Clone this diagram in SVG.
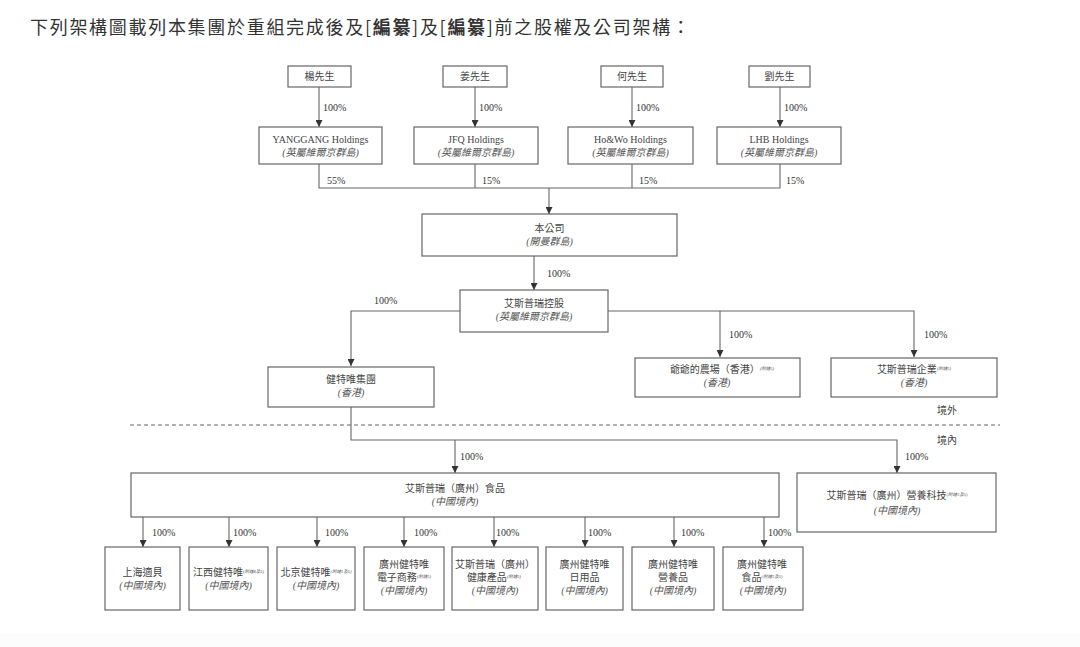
<svg xmlns="http://www.w3.org/2000/svg" width="1080" height="647" viewBox="0 0 1080 647">
<defs>
<marker id="ah" viewBox="0 0 8 8" refX="8" refY="4" markerWidth="7" markerHeight="7" markerUnits="userSpaceOnUse" orient="auto">
<path d="M0,0 L8,4 L0,8 z" fill="#333"/>
</marker>
<style>
.bx{fill:#fff;stroke:#666;stroke-width:1.2}
.ln{fill:none;stroke:#666;stroke-width:1.1}
.t{font-family:"Liberation Serif","Noto Sans CJK TC",serif;font-size:10px;fill:#444;text-anchor:middle}
.i{font-family:"Liberation Serif","Noto Sans CJK TC",serif;font-size:10px;fill:#555;text-anchor:middle;font-style:italic}
.p{font-family:"Liberation Serif",serif;font-size:10px;fill:#333}
.n{font-family:"Liberation Serif","Noto Sans CJK TC",serif;font-size:4.5px;fill:#555;font-style:italic}
.r{font-family:"Noto Sans CJK TC",sans-serif;font-size:10px;fill:#444}
</style>
</defs>
<rect x="0" y="0" width="1080" height="647" fill="#fff"/>
<rect x="0" y="633" width="1080" height="14" fill="#fcfcfc"/>
<text x="30" y="34" font-family="'Noto Sans CJK TC',sans-serif" font-size="18" fill="#333" letter-spacing="1.7">下列架構圖載列本集團於重組完成後及[<tspan font-weight="bold">編纂</tspan>]及[<tspan font-weight="bold">編纂</tspan>]前之股權及公司架構：</text>

<g id="connectors">
<path class="ln" d="M319,87 V127" marker-end="url(#ah)"/>
<path class="ln" d="M475,87 V127" marker-end="url(#ah)"/>
<path class="ln" d="M632,87 V127" marker-end="url(#ah)"/>
<path class="ln" d="M780,87 V127" marker-end="url(#ah)"/>
<path class="ln" d="M319,164 V188 H780 V164 M475,164 V188 M632,164 V188"/>
<path class="ln" d="M549,188 V214" marker-end="url(#ah)"/>
<path class="ln" d="M534,256 V290" marker-end="url(#ah)"/>
<path class="ln" d="M460,311 H351 V366" marker-end="url(#ah)"/>
<path class="ln" d="M608,311 H914 V357" marker-end="url(#ah)"/>
<path class="ln" d="M720,311 V357" marker-end="url(#ah)"/>
<path class="ln" d="M351,407 V440 H897 V473" marker-end="url(#ah)"/>
<path class="ln" d="M455,440 V473" marker-end="url(#ah)"/>
<path class="ln" d="M143,517 V547" marker-end="url(#ah)"/>
<path class="ln" d="M229,517 V547" marker-end="url(#ah)"/>
<path class="ln" d="M317,517 V547" marker-end="url(#ah)"/>
<path class="ln" d="M404,517 V547" marker-end="url(#ah)"/>
<path class="ln" d="M494,517 V547" marker-end="url(#ah)"/>
<path class="ln" d="M585,517 V547" marker-end="url(#ah)"/>
<path class="ln" d="M674,517 V547" marker-end="url(#ah)"/>
<path class="ln" d="M764,517 V547" marker-end="url(#ah)"/>
<path d="M130,425 H1000" stroke="#666" stroke-width="1" stroke-dasharray="4,3" fill="none"/>
<g class="p">
<text x="323" y="111">100%</text>
<text x="479" y="111">100%</text>
<text x="636" y="111">100%</text>
<text x="784" y="111">100%</text>
<text x="327" y="184">55%</text>
<text x="482" y="184">15%</text>
<text x="639" y="184">15%</text>
<text x="786" y="184">15%</text>
<text x="547" y="277">100%</text>
<text x="374" y="304">100%</text>
<text x="729" y="338">100%</text>
<text x="924" y="338">100%</text>
<text x="460" y="460">100%</text>
<text x="905" y="460">100%</text>
<text x="152" y="536">100%</text>
<text x="233" y="536">100%</text>
<text x="325" y="536">100%</text>
<text x="414" y="536">100%</text>
<text x="496" y="536">100%</text>
<text x="588" y="536">100%</text>
<text x="681" y="536">100%</text>
<text x="768" y="536">100%</text>
</g>
<text class="r" x="937" y="414">境外</text>
<text class="r" x="937" y="444">境內</text>
</g>

<g id="yang"><rect class="bx" x="288" y="66" width="63" height="21"/><text class="t" x="319.5" y="80">楊先生</text></g>
<g id="jiang"><rect class="bx" x="443" y="66" width="64" height="21"/><text class="t" x="475" y="80">姜先生</text></g>
<g id="he"><rect class="bx" x="601" y="66" width="62" height="21"/><text class="t" x="632" y="80">何先生</text></g>
<g id="liu"><rect class="bx" x="749" y="66" width="61" height="21"/><text class="t" x="779.5" y="80">劉先生</text></g>

<g id="yanggang"><rect class="bx" x="259" y="127" width="123" height="37"/><text class="t" x="320.5" y="143">YANGGANG Holdings</text><text class="i" x="320.5" y="156">(英屬維爾京群島)</text></g>
<g id="jfq"><rect class="bx" x="414" y="127" width="124" height="37"/><text class="t" x="476" y="143">JFQ Holdings</text><text class="i" x="476" y="156">(英屬維爾京群島)</text></g>
<g id="howo"><rect class="bx" x="568" y="127" width="125" height="37"/><text class="t" x="630.5" y="143">Ho&amp;Wo Holdings</text><text class="i" x="630.5" y="156">(英屬維爾京群島)</text></g>
<g id="lhb"><rect class="bx" x="717" y="127" width="124" height="37"/><text class="t" x="779" y="143">LHB Holdings</text><text class="i" x="779" y="156">(英屬維爾京群島)</text></g>

<g id="company"><rect class="bx" x="422" y="214" width="255" height="42"/><text class="t" x="549.5" y="232">本公司</text><text class="i" x="549.5" y="245">(開曼群島)</text></g>
<g id="aspurui-holding"><rect class="bx" x="460" y="290" width="148" height="42"/><text class="t" x="534" y="307">艾斯普瑞控股</text><text class="i" x="534" y="320">(英屬維爾京群島)</text></g>

<g id="jiantewei-group"><rect class="bx" x="268" y="367" width="166" height="40"/><text class="t" x="351" y="383">健特唯集團</text><text class="i" x="351" y="396">(香港)</text></g>
<g id="farm"><rect class="bx" x="635" y="358" width="165" height="39"/><text class="t" x="722" y="373">爺爺的農場（香港）<tspan class="n" dy="-3">(附註5)</tspan></text><text class="i" x="717" y="386">(香港)</text></g>
<g id="enterprise"><rect class="bx" x="831" y="358" width="166" height="39"/><text class="t" x="914" y="373">艾斯普瑞企業<tspan class="n" dy="-3">(附註5)</tspan></text><text class="i" x="914" y="386">(香港)</text></g>

<g id="food-gz"><rect class="bx" x="131" y="473" width="648" height="44"/><text class="t" x="455" y="492">艾斯普瑞（廣州）食品</text><text class="i" x="455" y="505">(中國境內)</text></g>
<g id="nutri-tech"><rect class="bx" x="797" y="473" width="199" height="59"/><text class="t" x="897" y="499">艾斯普瑞（廣州）營養科技<tspan class="n" dy="-3">(附註3及5)</tspan></text><text class="i" x="897" y="514">(中國境內)</text></g>

<g id="b1"><rect class="bx" x="105" y="547" width="75" height="63"/><text class="t" x="142.5" y="576">上海適貝</text><text class="i" x="142.5" y="589">(中國境內)</text></g>
<g id="b2"><rect class="bx" x="189" y="547" width="79" height="63"/><text class="t" x="228.5" y="576">江西健特唯<tspan class="n" dy="-3">(附註4及5)</tspan></text><text class="i" x="228.5" y="589">(中國境內)</text></g>
<g id="b3"><rect class="bx" x="277" y="547" width="78" height="63"/><text class="t" x="316" y="576">北京健特唯<tspan class="n" dy="-3">(附註1及5)</tspan></text><text class="i" x="316" y="589">(中國境內)</text></g>
<g id="b4"><rect class="bx" x="364" y="547" width="80" height="63"/><text class="t" x="404" y="568">廣州健特唯</text><text class="t" x="404" y="581">電子商務<tspan class="n" dy="-3">(附註5)</tspan></text><text class="i" x="404" y="594">(中國境內)</text></g>
<g id="b5"><rect class="bx" x="452" y="547" width="86" height="63"/><text class="t" x="495" y="568">艾斯普瑞（廣州）</text><text class="t" x="494" y="581">健康產品<tspan class="n" dy="-3">(附註5)</tspan></text><text class="i" x="495" y="594">(中國境內)</text></g>
<g id="b6"><rect class="bx" x="546" y="547" width="77" height="63"/><text class="t" x="584.5" y="568">廣州健特唯</text><text class="t" x="584.5" y="581">日用品</text><text class="i" x="584.5" y="594">(中國境內)</text></g>
<g id="b7"><rect class="bx" x="632" y="547" width="82" height="63"/><text class="t" x="673" y="568">廣州健特唯</text><text class="t" x="673" y="581">營養品</text><text class="i" x="673" y="594">(中國境內)</text></g>
<g id="b8"><rect class="bx" x="723" y="547" width="80" height="63"/><text class="t" x="762" y="568">廣州健特唯</text><text class="t" x="762" y="581">食品<tspan class="n" dy="-3">(附註2及5)</tspan></text><text class="i" x="763" y="594">(中國境內)</text></g>
</svg>
